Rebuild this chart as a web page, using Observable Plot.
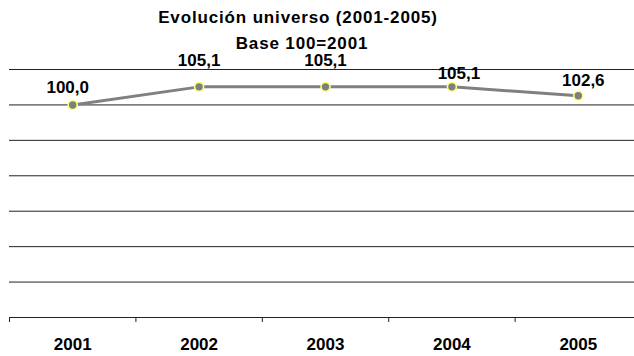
<!DOCTYPE html>
<html>
<head>
<meta charset="utf-8">
<script src="https://cdn.jsdelivr.net/npm/d3@7"></script>
<script src="https://cdn.jsdelivr.net/npm/@observablehq/plot@0.6"></script>
<style>
  html, body { margin: 0; padding: 0; background: #fff; }
  #wrap { position: relative; width: 634px; height: 356px; overflow: hidden; font-family: "Liberation Sans", Arial, sans-serif; }
  .t { position: absolute; font-weight: bold; font-size: 17px; letter-spacing: 0.85px; color: #000; white-space: nowrap; transform: translateX(-50%); line-height: 12px; }
  #wrap svg { position: absolute; left: 0; top: 0; overflow: visible; max-width: none; }
</style>
</head>
<body>
<div id="wrap">
  <div class="t" id="t1" style="left:298px; top:11.5px;">Evolución universo (2001-2005)</div>
  <div class="t" id="t2" style="left:302px; top:37.5px;">Base 100=2001</div>
</div>
<script>
const years = [2001, 2002, 2003, 2004, 2005];
const values = [100.0, 105.1, 105.1, 105.1, 102.6];
const gridValues = [40, 50, 60, 70, 80, 90, 100, 110];

// label placement offsets (layout only, px)
const labelDx = [-5, 0, 0, 7, 5];
const labelDy = [-17, -26, -26, -13, -15];

const data = years.map((y, i) => ({year: y, value: values[i], dx: labelDx[i], dy: labelDy[i]}));
const boundaries = years.map(y => y - 0.5).concat([years[years.length - 1] + 0.5]);
const fmt = v => v.toFixed(1).replace(".", ",");

const W = 634, H = 356;
const chart = Plot.plot({
  width: W,
  height: H,
  marginTop: 69,
  marginBottom: 39,
  marginLeft: 9,
  marginRight: -7,
  style: {fontFamily: "Liberation Sans, Arial, sans-serif", background: "transparent", overflow: "visible"},
  x: {type: "linear", domain: [2000.5, 2005.5], axis: null},
  y: {domain: [40, 110], axis: null},
  marks: [
    Plot.ruleY(gridValues, {stroke: "#222", strokeWidth: 1}),
    Plot.axisX(boundaries, {tickSize: 5, tickFormat: () => "", stroke: "#222", strokeOpacity: 1, label: null}),
    Plot.axisX(years, {tickSize: 0, tickPadding: 20, tickFormat: d => String(d), fontSize: 17, fontWeight: "bold", fill: "#000", label: null}),
    Plot.line(data, {x: "year", y: "value", stroke: "#808080", strokeWidth: 3}),
    Plot.dot(data, {x: "year", y: "value", r: 4.5, fill: "#7f7f7f", stroke: "#ffff80", strokeWidth: 1.6}),
    ...data.map(d => Plot.text([d], {x: "year", y: "value", text: r => fmt(r.value), dx: d.dx, dy: d.dy, fontSize: 17, fontWeight: "bold", fill: "#000"}))
  ]
});
document.getElementById("wrap").insertBefore(chart, document.getElementById("t1"));
</script>
</body>
</html>
